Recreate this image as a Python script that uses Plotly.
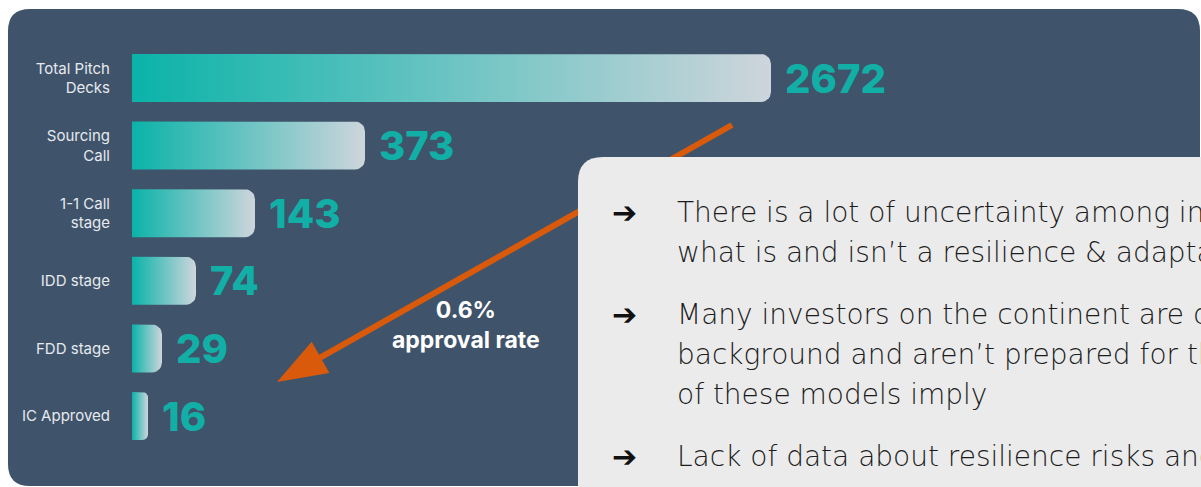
import plotly.graph_objects as go
import numpy as np

# funnel data
stages = ["Total Pitch<br>Decks", "Sourcing<br>Call", "1-1 Call<br>stage", "IDD stage", "FDD stage", "IC Approved"]
counts = [2672, 373, 143, 74, 29, 16]
# drawn bar length (the slide is not drawn to scale)
bar_len = [639, 233, 123, 64, 30, 16]

rate_text = "0.6%<br>approval rate"
bullets = [
    ["There is a lot of uncertainty among investors", "what is and isn\u2019t a resilience & adaptation"],
    ["Many investors on the continent are of a", "background and aren\u2019t prepared for the", "of these models imply"],
    ["Lack of data about resilience risks and"],
]

W, H = 1201, 487
BG = "#3F536B"
TEAL = "#12AFA6"
ORANGE = "#D95A0B"


def px(x):
    return x / W


def py(y):
    return 1 - y / H


def rounded_rect(x0, y0, x1, y1, r):
    # pixel coords -> paper path
    return (f"M {px(x0)},{py(y0 + r)} Q {px(x0)},{py(y0)} {px(x0 + r)},{py(y0)} "
            f"L {px(x1 - r)},{py(y0)} Q {px(x1)},{py(y0)} {px(x1)},{py(y0 + r)} "
            f"L {px(x1)},{py(y1 - r)} Q {px(x1)},{py(y1)} {px(x1 - r)},{py(y1)} "
            f"L {px(x0 + r)},{py(y1)} Q {px(x0)},{py(y1)} {px(x0)},{py(y1 - r)} Z")


fig = go.Figure()
annotations = []

row_px = 67.6   # pixels per category row
half_h = 24 / row_px
for i, (L, c) in enumerate(zip(bar_len, counts)):
    r = min(10, L * 0.35)
    ry = r / row_px
    t = np.linspace(0, np.pi / 2, 8)
    # right side rounded corners, square left side
    top = [(L - r + r * np.sin(a), i - half_h + ry - ry * np.cos(a)) for a in t]
    bot = [(L - r + r * np.cos(a), i + half_h - ry + ry * np.sin(a)) for a in t]
    pts = [(0, i - half_h)] + top + bot + [(0, i + half_h), (0, i - half_h)]
    xs, ys = zip(*pts)
    fig.add_trace(go.Scatter(
        x=xs, y=ys, mode="lines", fill="toself", line=dict(width=0),
        fillgradient=dict(type="horizontal", colorscale=[[0, "#0AB3A9"], [1, "#CED5DC"]]),
        hoverinfo="skip", showlegend=False,
    ))
    annotations.append(dict(
        x=L + 12, y=i, xref="x", yref="y", text=f"{c}", showarrow=False,
        xanchor="left", yanchor="middle",
        font=dict(family="Inter", size=40, color=TEAL, weight=800),
    ))

# arrow geometry
tail = np.array([732.0, 125.0])
tip = np.array([277.0, 382.0])
u = (tip - tail) / np.linalg.norm(tip - tail)
n = np.array([-u[1], u[0]])
base = tip - u * 50
c1, c2 = base + n * 18, base - n * 18

shapes = [
    dict(type="path", path=rounded_rect(8, 9, 1200, 486, 22), xref="paper", yref="paper",
         fillcolor=BG, line=dict(width=0), layer="below"),
    dict(type="line", xref="paper", yref="paper",
         x0=px(tail[0]), y0=py(tail[1]), x1=px(base[0] + u[0] * 4), y1=py(base[1] + u[1] * 4),
         line=dict(color=ORANGE, width=6)),
    dict(type="path", xref="paper", yref="paper",
         path=f"M {px(tip[0])},{py(tip[1])} L {px(c1[0])},{py(c1[1])} L {px(c2[0])},{py(c2[1])} Z",
         fillcolor=ORANGE, line=dict(width=0)),
    dict(type="path", path=rounded_rect(578, 157, 1240, 520, 25), xref="paper", yref="paper",
         fillcolor="#EBEBEB", line=dict(width=0)),
]

annotations.append(dict(x=px(466), y=py(356), xref="paper", yref="paper", text=rate_text, showarrow=False,
                        align="center", font=dict(family="Inter", size=23, color="white", weight=700)))

y = 212
for p, lines in enumerate(bullets):
    if p > 0:
        y += 62
    annotations.append(dict(x=px(610), y=py(y), xref="paper", yref="paper", text="\u2794",
                            showarrow=False, xanchor="left", yanchor="middle",
                            font=dict(family="DejaVu Sans", size=30, color="#111111", weight=700)))
    for k, line in enumerate(lines):
        if k > 0:
            y += 40
        annotations.append(dict(x=px(675), y=py(y), xref="paper", yref="paper", text=line,
                                showarrow=False, xanchor="left", yanchor="middle",
                                font=dict(family="DejaVu Sans", size=28, color="#1C1C1C", weight=300)))

fig.update_layout(
    width=W, height=H,
    margin=dict(l=0, r=0, t=0, b=0),
    paper_bgcolor="white",
    plot_bgcolor="rgba(0,0,0,0)",
    xaxis=dict(domain=[132 / W, 1], range=[0, W - 132], visible=False, fixedrange=True),
    yaxis=dict(domain=[0, 1], range=[(H - 78) / row_px, -78 / row_px],
               tickvals=list(range(len(stages))), ticktext=stages,
               showgrid=False, zeroline=False, showline=False, ticks="",
               ticklabelstandoff=21, automargin=False, fixedrange=True,
               tickfont=dict(family="Inter", size=15, color="#E6EAEE")),
    shapes=shapes,
    annotations=annotations,
    showlegend=False,
)

# no page margin / scrollbars so the figure fills the window
fig.write_html("out.html", config={"displayModeBar": False},
               post_script="document.body.style.margin='0';document.body.style.overflow='hidden';")
